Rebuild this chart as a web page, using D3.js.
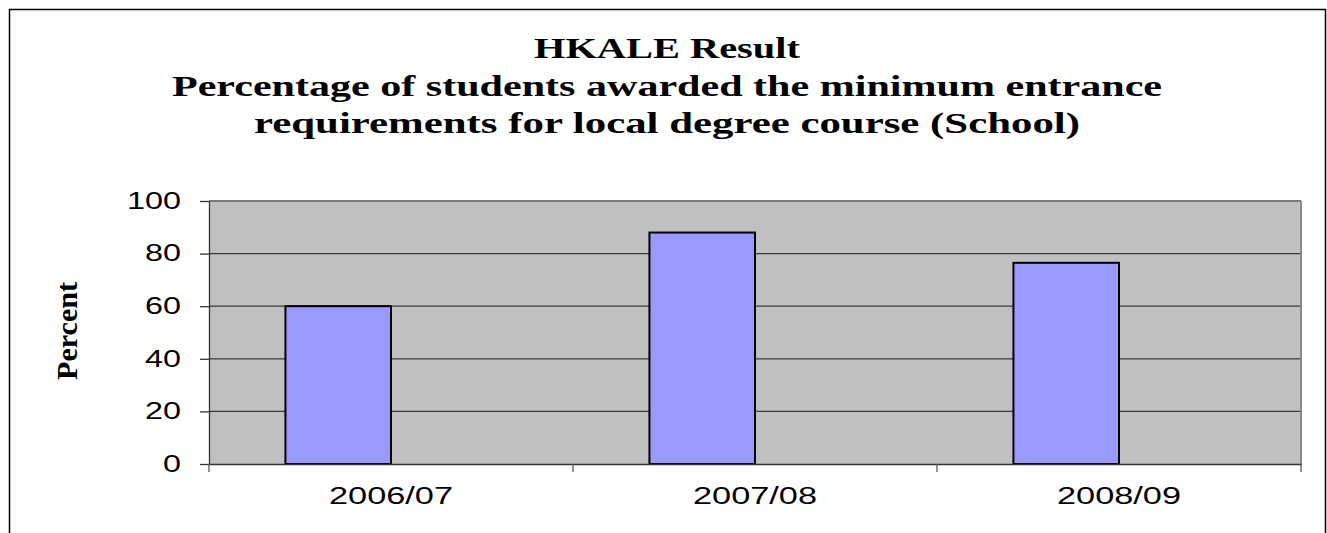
<!DOCTYPE html>
<html>
<head>
<meta charset="utf-8">
<script src="https://cdn.jsdelivr.net/npm/d3@7"></script>
<style>
  body { margin: 0; background: #fff; }
</style>
</head>
<body>
<div id="chart"></div>
<script>
var years = ["2006/07", "2007/08", "2008/09"];
var percent = [60, 88, 76.5];
var yTicks = [0, 20, 40, 60, 80, 100];
var titleLines = [
    "HKALE Result",
    "Percentage of students awarded the minimum entrance",
    "requirements for local degree course (School)"
];

var W = 1327, H = 533;
var plot = { left: 209, right: 1301, top: 201, bottom: 464 };

var svg = d3.select("#chart")
    .append("svg")
    .attr("width", W)
    .attr("height", H);

// outer chart border (bottom edge falls outside the picture)
svg.append("rect")
    .attr("x", 9.5)
    .attr("y", 9.5)
    .attr("width", 1316)
    .attr("height", 560)
    .attr("fill", "#fff")
    .attr("stroke", "#000")
    .attr("stroke-width", 1.5);

// title
var titleW = [266, 990, 826];
svg.selectAll(".title")
    .data(titleLines)
    .enter()
    .append("text")
    .attr("class", "title")
    .attr("x", 667)
    .attr("y", function(d, i) { return 58 + i * 37.5; })
    .attr("text-anchor", "middle")
    .attr("textLength", function(d, i) { return titleW[i]; })
    .attr("lengthAdjust", "spacingAndGlyphs")
    .style("font-family", "'Liberation Serif', 'Times New Roman', serif")
    .style("font-weight", "bold")
    .style("font-size", "30px")
    .text(function(d) { return d; });

var x = d3.scaleBand()
    .domain(years)
    .range([plot.left, plot.right])
    .padding(0);

var y = d3.scaleLinear()
    .domain([0, 100])
    .range([plot.bottom, plot.top]);

// plot area
svg.append("rect")
    .attr("x", plot.left)
    .attr("y", plot.top)
    .attr("width", plot.right - plot.left)
    .attr("height", plot.bottom - plot.top)
    .attr("fill", "#c0c0c0");

// gridlines
svg.append("g")
    .selectAll("line")
    .data(yTicks.filter(function(d) { return d > 0; }))
    .enter()
    .append("line")
    .attr("x1", plot.left)
    .attr("x2", plot.right)
    .attr("y1", function(d) { return y(d); })
    .attr("y2", function(d) { return y(d); })
    .attr("stroke", function(d) { return d == 100 ? "#7a7a7a" : "#3a3a3a"; })
    .attr("stroke-width", function(d) { return d == 100 ? 2 : 1.3; });

// right plot border
svg.append("line")
    .attr("x1", plot.right).attr("x2", plot.right)
    .attr("y1", plot.top).attr("y2", plot.bottom)
    .attr("stroke", "#8a8a8a")
    .attr("stroke-width", 2);

// bars: sit in the left half of a two-slot group
var barW = x.bandwidth() * 0.29;
svg.append("g")
    .selectAll("rect")
    .data(years)
    .enter()
    .append("rect")
    .attr("x", function(d) { return x(d) + x.bandwidth() / 2 - barW; })
    .attr("y", function(d, i) { return y(percent[i]); })
    .attr("width", barW)
    .attr("height", function(d, i) { return y(0) - y(percent[i]); })
    .attr("fill", "#9999ff")
    .attr("stroke", "#000")
    .attr("stroke-width", 2);

// y axis
var yAxis = svg.append("g")
    .attr("transform", "translate(" + plot.left + ",0)")
    .call(d3.axisLeft(y).tickValues(yTicks).tickSize(9).tickSizeOuter(0).tickPadding(19));
yAxis.select(".domain").attr("stroke", "#333").attr("stroke-width", 1.3);
yAxis.selectAll(".tick line").attr("stroke", "#333").attr("stroke-width", 1.3);
yAxis.selectAll("text")
    .style("font-family", "'Liberation Sans', Arial, sans-serif")
    .style("font-size", "23px")
    .attr("fill", "#000")
    .attr("textLength", function(d) { return String(d).length * 18; })
    .attr("lengthAdjust", "spacingAndGlyphs");

// x axis: labels at category centres
var xAxis = svg.append("g")
    .attr("transform", "translate(0," + plot.bottom + ")")
    .call(d3.axisBottom(x).tickSize(0).tickPadding(24));
xAxis.select(".domain").attr("stroke", "#333").attr("stroke-width", 1.5);
xAxis.selectAll("text")
    .style("font-family", "'Liberation Sans', Arial, sans-serif")
    .style("font-size", "23px")
    .attr("fill", "#000")
    .attr("textLength", 124)
    .attr("lengthAdjust", "spacingAndGlyphs");

// x ticks at category boundaries
var bounds = years.map(function(d) { return x(d); }).concat([x.range()[1]]);
svg.append("g")
    .selectAll("line")
    .data(bounds)
    .enter()
    .append("line")
    .attr("x1", function(d) { return d; })
    .attr("x2", function(d) { return d; })
    .attr("y1", plot.bottom)
    .attr("y2", plot.bottom + 8)
    .attr("stroke", "#555")
    .attr("stroke-width", 1.3);

// y axis title
svg.append("text")
    .attr("transform", "translate(77,331) rotate(-90)")
    .attr("text-anchor", "middle")
    .attr("textLength", 98)
    .attr("lengthAdjust", "spacingAndGlyphs")
    .style("font-family", "'Liberation Serif', 'Times New Roman', serif")
    .style("font-weight", "bold")
    .style("font-size", "29px")
    .text("Percent");
</script>
</body>
</html>
